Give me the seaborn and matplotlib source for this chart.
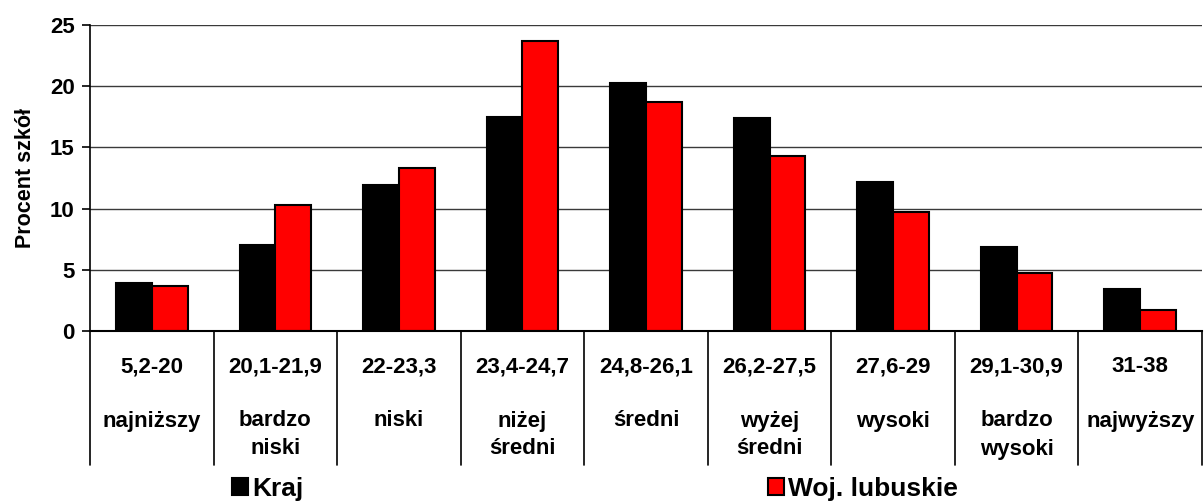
import matplotlib
matplotlib.use("Agg")
import matplotlib.pyplot as plt
import matplotlib.transforms as mtrans
import seaborn as sns
import pandas as pd

ranges = ["5,2-20", "20,1-21,9", "22-23,3", "23,4-24,7", "24,8-26,1",
          "26,2-27,5", "27,6-29", "29,1-30,9", "31-38"]
names = ["najniższy", "bardzo\nniski", "niski", "niżej\nśredni", "średni",
         "wyżej\nśredni", "wysoki", "bardzo\nwysoki", "najwyższy"]
kraj = [3.9, 7.0, 11.9, 17.5, 20.3, 17.4, 12.2, 6.9, 3.4]
lubuskie = [3.7, 10.3, 13.3, 23.7, 18.7, 14.3, 9.7, 4.7, 1.7]
series = ["Kraj", "Woj. lubuskie"]
colors = ["#000000", "#ff0000"]

df = pd.DataFrame({
    "kat": ranges * 2,
    "wartosc": kraj + lubuskie,
    "seria": [series[0]] * len(kraj) + [series[1]] * len(lubuskie),
})

sns.set_theme(style="white")
plt.rcParams["font.family"] = ["Liberation Sans", "DejaVu Sans"]
plt.rcParams["font.weight"] = "bold"
plt.rcParams["text.color"] = "black"
plt.rcParams["ytick.color"] = "black"
plt.rcParams["axes.labelcolor"] = "black"

W, H = 1204, 503
fig = plt.figure(figsize=(W / 100, H / 100), dpi=100)
x0, x1, ytop, ybot = 90, 1202, 25, 331
ax = fig.add_axes([x0 / W, 1 - ybot / H, (x1 - x0) / W, (ybot - ytop) / H])

sns.barplot(data=df, x="kat", y="wartosc", hue="seria", order=ranges,
            hue_order=series, palette=colors, width=0.58, gap=0,
            edgecolor="black", linewidth=1.5, saturation=1, ax=ax, legend=True)

handles, labels = ax.get_legend_handles_labels()
ax.get_legend().remove()

ax.set_ylim(0, 25)
ax.set_xlim(-0.5, len(ranges) - 0.5)
ax.set_yticks([0, 5, 10, 15, 20, 25])
ax.yaxis.grid(True, color="#3a3a3a", linewidth=1)
ax.set_axisbelow(True)
for s in ["top", "right"]:
    ax.spines[s].set_visible(False)
ax.spines["left"].set_color("black")
ax.spines["left"].set_linewidth(1.2)
ax.spines["bottom"].set_color("black")
ax.spines["bottom"].set_linewidth(1.5)
ax.tick_params(axis="y", direction="out", length=6, width=1.2, color="black",
               labelsize=16, pad=5, left=True, labelcolor="black")
for t in ax.get_yticklabels():
    t.set_fontweight("bold")
ax.set_xticks([])
ax.set_xlabel("")
ax.set_ylabel("Procent szkół", fontsize=15.5, fontweight="bold", labelpad=10,
              color="black")

# category table below the axis
h = ybot - ytop
trans = mtrans.blended_transform_factory(ax.transData, ax.transAxes)
div_bottom = (ybot - 465) / h
for i in range(len(ranges) + 1):
    ax.plot([i - 0.5, i - 0.5], [0, div_bottom], color="black", lw=1.2,
            transform=trans, clip_on=False)
y_range = (ybot - 367) / h
y_name1 = (ybot - 421) / h
y_step = 28 / h
for i, (r, n) in enumerate(zip(ranges, names)):
    ax.text(i, y_range, r, transform=trans, ha="center", va="center",
            fontsize=16, fontweight="bold", color="black")
    for j, line in enumerate(n.split("\n")):
        ax.text(i, y_name1 - j * y_step, line, transform=trans, ha="center",
                va="center", fontsize=16, fontweight="bold", color="black")

# legends
for hnd, lab, xp in zip(handles, labels, [232, 768]):
    fig.legend([hnd], [lab], loc="center left", bbox_to_anchor=(xp / W, 1 - 489 / H),
               frameon=False, handlelength=0.6, handleheight=0.6,
               handletextpad=0.15, borderpad=0, borderaxespad=0,
               prop={"size": 19, "weight": "bold"}, labelcolor="black")

fig.savefig("out.png", dpi=100)
